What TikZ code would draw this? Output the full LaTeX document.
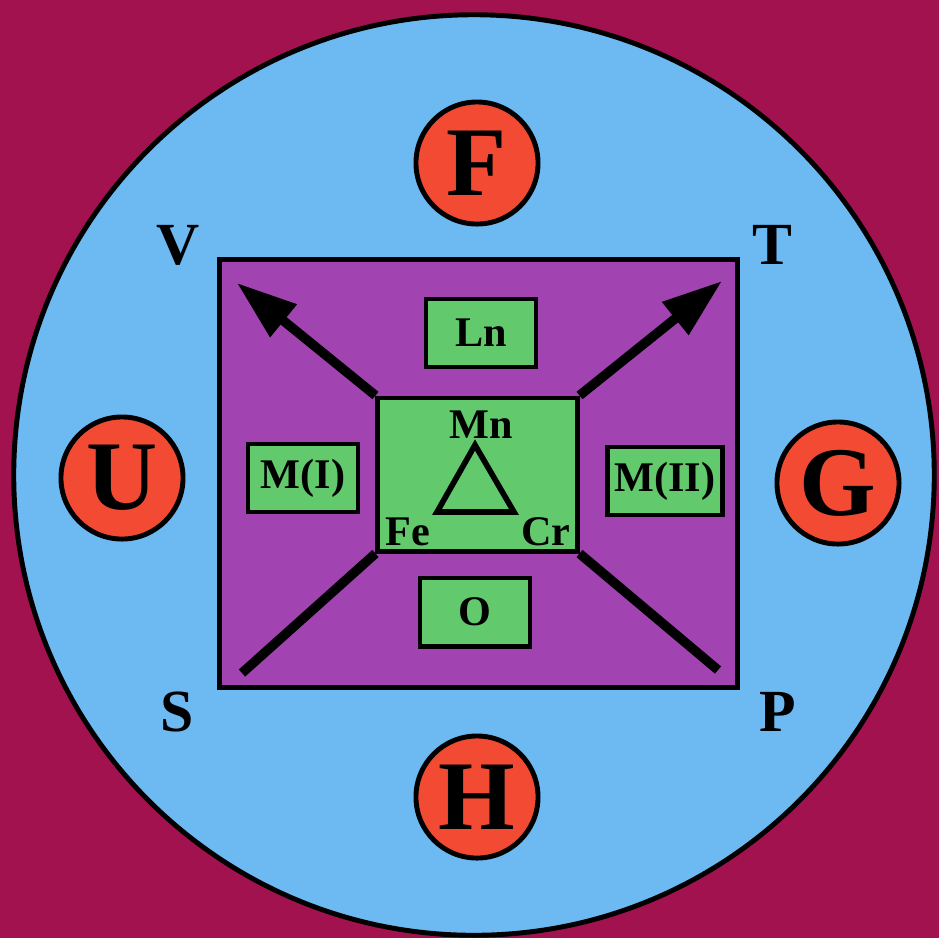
\documentclass[tikz,border=0pt]{standalone}
\usepackage{fontspec}
\setmainfont{Liberation Serif}
\usepackage{tikz}
\usetikzlibrary{arrows.meta,positioning}
\definecolor{wine}{HTML}{A2124E}
\definecolor{sky}{HTML}{6DB9F2}
\definecolor{violet}{HTML}{A243B2}
\definecolor{leaf}{HTML}{62C96C}
\definecolor{tomato}{HTML}{F34B33}

\begin{document}
\begin{tikzpicture}[
  x=0.01cm, y=-0.01cm,
  frame/.style={draw=black,line width=1.4pt,fill=violet},
  core/.style={draw=black,line width=1.4pt,fill=leaf,minimum width=1.99cm,minimum height=1.53cm},
  tag/.style={draw=black,line width=1.4pt,fill=leaf,minimum width=1.1cm,minimum height=0.68cm,inner xsep=2pt,font=\fontsize{12}{14}\selectfont\bfseries},
  ring/.style={circle,draw=black,line width=1.4pt,fill=tomato,minimum size=1.22cm,inner sep=0pt,font=\fontsize{28}{30}\selectfont\bfseries},
  corner/.style={font=\fontsize{17}{19}\selectfont\bfseries},
  elem/.style={font=\fontsize{12}{14}\selectfont\bfseries,inner sep=1pt},
  line/.style={line width=2.7pt,draw=black},
  arrow/.style={line,-{Triangle[length=6mm,width=4mm]}}
]
\useasboundingbox (0,0) rectangle (939,938);
\fill[wine] (0,0) rectangle (939,938);
\draw[line width=1.4pt,fill=sky] (474,475) circle[radius=4.6cm];

% outer labels
\node[ring] (f) at (477,163) {F};
\node[ring] (u) at (122,478) {U};
\node[ring] (g) at (838,483) {G};
\node[ring] (h) at (477,797) {H};
\node[corner] (v) at (178,245) {V};
\node[corner] (t) at (772,245) {T};
\node[corner] (s) at (177,712) {S};
\node[corner] (p) at (778,712) {P};

% inner square
\node[frame,minimum width=5.17cm,minimum height=4.27cm] (box) at (478.5,473.5) {};
\node[core] (mid) at (477.5,474.5) {};
\node[tag] (ln) at (481,333) {Ln};
\node[tag] (o) at (475,612) {O};
\node[tag] (m1) at (303,478) {M(I)};
\node[tag] (m2) at (665,481) {M(II)};

\coordinate (vtip) at (237,283);
\coordinate (ttip) at (722,281);
\coordinate (send) at (242,673);
\coordinate (pend) at (718,670);
\draw[arrow] (mid.north west) -- (vtip);
\draw[arrow] (mid.north east) -- (ttip);
\draw[line] (mid.south west) -- (send);
\draw[line] (mid.south east) -- (pend);

% triangle
\draw[line width=1.6pt,line join=miter] (437,512) -- (514,512) -- (475,445) -- cycle;
\node[elem] (mn) at (481,425) {Mn};
\node[elem] (fe) at (408,532) {Fe};
\node[elem] (cr) at (546,532) {Cr};
\end{tikzpicture}
\end{document}
